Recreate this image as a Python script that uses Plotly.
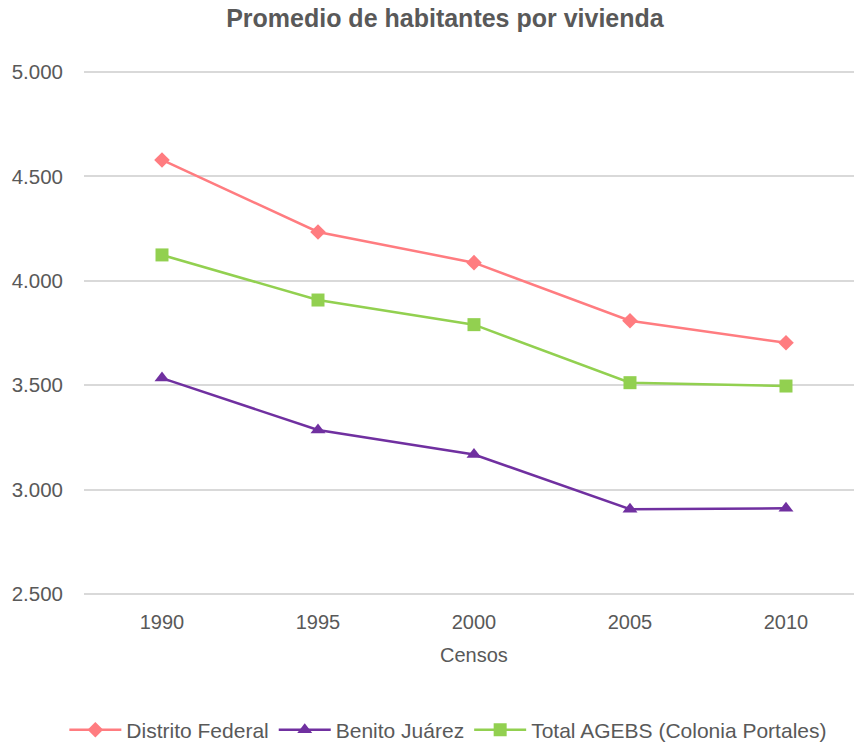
import plotly.graph_objects as go

censos = ["1990", "1995", "2000", "2005", "2010"]
distrito_federal = [4.579, 4.234, 4.087, 3.809, 3.703]
benito_juarez = [3.534, 3.285, 3.168, 2.906, 2.910]
total_agebs = [4.124, 3.908, 3.790, 3.512, 3.496]

y_ticks = [2.5, 3.0, 3.5, 4.0, 4.5, 5.0]
y_tick_text = ["2.500", "3.000", "3.500", "4.000", "4.500", "5.000"]

font_family = "Liberation Sans, Arial, sans-serif"
text_color = "#595959"

series = [
    ("Distrito Federal", distrito_federal, "#FF7C80", "diamond", 12),
    ("Benito Juárez", benito_juarez, "#7030A0", "triangle-up", 13),
    ("Total AGEBS (Colonia Portales)", total_agebs, "#92D050", "square", 13),
]

fig = go.Figure()
for name, values, color, symbol, size in series:
    fig.add_trace(go.Scatter(
        x=censos, y=values, name=name, mode="lines+markers",
        line=dict(color=color, width=2.5),
        marker=dict(symbol=symbol, size=size, color=color),
    ))

fig.update_layout(
    width=854, height=742,
    margin=dict(l=84, r=0, t=70, b=146, autoexpand=False),
    paper_bgcolor="white", plot_bgcolor="white",
    font=dict(family=font_family, color=text_color, size=20),
    title=dict(
        text="<b>Promedio de habitantes por vivienda</b>",
        x=0.521, xanchor="center", xref="container",
        y=0.9757, yanchor="middle", yref="container",
        font=dict(size=25, color=text_color, family=font_family),
    ),
    xaxis=dict(
        type="category", range=[-0.5, 4.436],
        showgrid=False, zeroline=False, showline=False,
        ticks="", tickfont=dict(size=20, color=text_color),
        ticklabelstandoff=12,
    ),
    yaxis=dict(
        range=[2.49, 5.01], tickvals=y_ticks, ticktext=y_tick_text,
        showgrid=True, gridcolor="#D9D9D9", gridwidth=1.5,
        zeroline=False, showline=False, ticks="",
        tickfont=dict(size=20.5, color=text_color), ticklabelstandoff=20,
    ),
    legend=dict(
        orientation="h", x=0.525, xanchor="center", xref="container",
        y=0.016, yanchor="middle", yref="container",
        font=dict(size=21, color=text_color),
        itemwidth=52,
    ),
    showlegend=True,
)

fig.add_annotation(
    text="Censos", x=2, xref="x", y=-0.112, yref="paper",
    showarrow=False, yanchor="middle",
    font=dict(size=20, color=text_color, family=font_family),
)

fig.write_html("out.html")
